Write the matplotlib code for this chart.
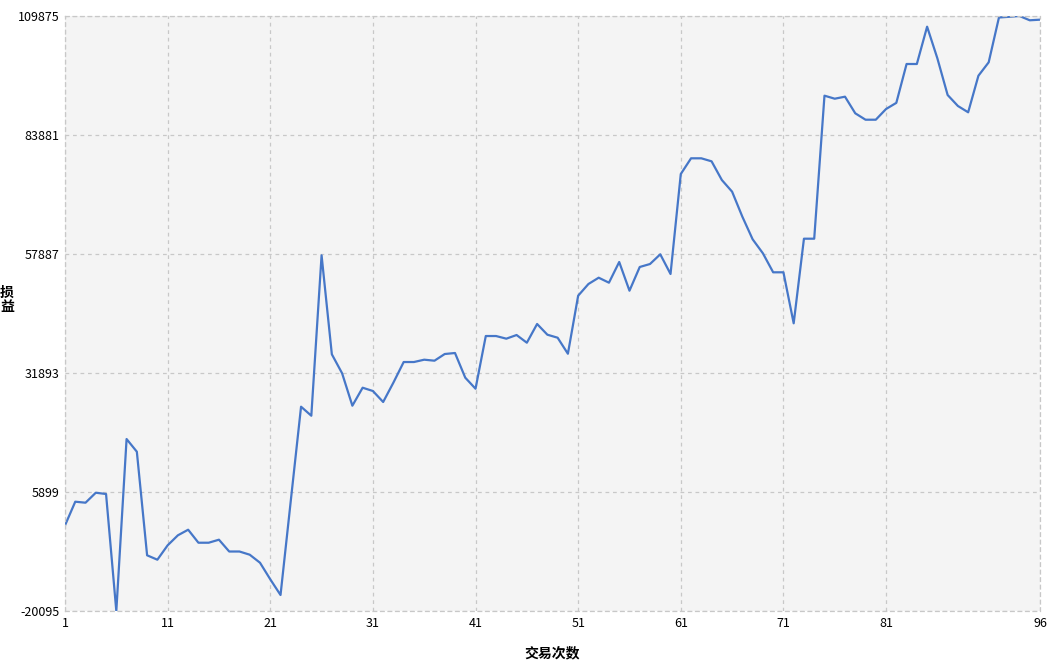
import numpy as np
import matplotlib
matplotlib.use('Agg')
import matplotlib.pyplot as plt

plt.rcParams['font.family'] = ['Noto Sans CJK SC', 'DejaVu Sans']

# cumulative profit per trade
trades = np.arange(1, 97)
profit = [
    -1400, 3780, 3560, 5740, 5460, -20095, 17470, 14700, -7930, -8890,
    -5750, -3560, -2340, -5180, -5180, -4520, -7100, -7100, -7800, -9550,
    -13170, -16600, 4000, 24530, 22560, 57600, 35980, 31830, 24750, 28680,
    27960, 25560, 29800, 34290, 34290, 34800, 34580, 36040, 36260, 30870,
    28460, 39970, 39970, 39390, 40190, 38510, 42600, 40260, 39600, 36100,
    48780, 51330, 52710, 51620, 56140, 49870, 55050, 55700, 57820, 53520,
    75360, 78790, 78790, 78130, 74050, 71500, 66030, 61100, 58040, 53890,
    53890, 42750, 61230, 61230, 92470, 91810, 92250, 88620, 87220, 87220,
    89560, 90900, 99390, 99390, 107540, 100630, 92620, 90220, 88840, 96830,
    99760, 109550, 109700, 109875, 108940, 109070,
]

x_ticks = [1, 11, 21, 31, 41, 51, 61, 71, 81, 96]
y_min, y_max = min(profit), max(profit)
y_ticks = np.linspace(y_min, y_max, 6)

fig = plt.figure(figsize=(10.55, 6.65), dpi=100)
ax = fig.add_axes([65/1055, 1 - 611/665, 975/1055, 595/665])
ax.set_facecolor('#f4f4f4')

ax.plot(trades, profit, color='#4677c8', lw=1.6)

ax.set_xlim(1, 96)
ax.set_ylim(y_min, y_max)
ax.set_xticks(x_ticks)
ax.set_yticks(y_ticks)
ax.set_yticklabels([f'{int(round(v))}' for v in y_ticks])
ax.tick_params(length=0, labelsize=9, pad=4)

# dashed grid + dashed frame
ax.grid(True, ls=(0, (3, 3)), color='#c8c8c8', lw=0.9)
for s in ax.spines.values():
    s.set_linestyle((0, (3, 3)))
    s.set_color('#c8c8c8')
    s.set_linewidth(0.9)

ax.set_xlabel('交易次数', fontsize=10, fontweight='bold', labelpad=12)
fig.text(7/1055, 1 - 300/665, '损\n益', fontsize=10, fontweight='bold',
         ha='center', va='center', linespacing=0.95)

plt.savefig('out.png', dpi=100)
